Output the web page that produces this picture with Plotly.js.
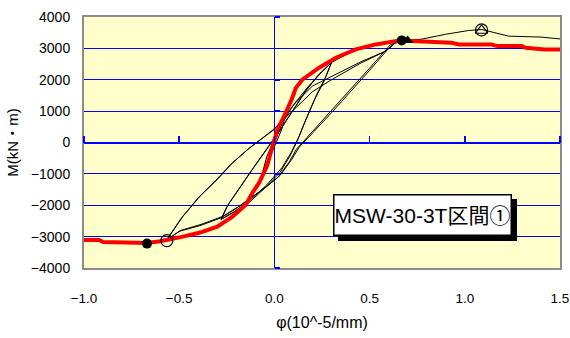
<!DOCTYPE html>
<html>
<head>
<meta charset="utf-8">
<script src="https://cdn.plot.ly/plotly-3.0.1.min.js"></script>
<style>html,body{margin:0;padding:0;background:#fff;}#chart{width:570px;height:338px;}</style>
</head>
<body>
<div id="chart"></div>
<script>
// ---- data ----
const xTicks = [-1.0, -0.5, 0.0, 0.5, 1.0, 1.5];
const yTicks = [-4000, -3000, -2000, -1000, 0, 1000, 2000, 3000, 4000];

// skeleton (envelope) curve, red
const envX = [-1.03, -0.92, -0.90, -0.75, -0.67, -0.60, -0.565, -0.48, -0.39, -0.30, -0.22, -0.15, -0.115, -0.08, -0.04, -0.01, 0.016, 0.043, 0.087, 0.113, 0.148, 0.235, 0.323, 0.427, 0.532, 0.636, 0.669, 0.722, 0.93, 0.97, 1.14, 1.17, 1.30, 1.32, 1.42, 1.52];
const envY = [-3110, -3110, -3170, -3180, -3200, -3150, -3110, -3000, -2870, -2680, -2360, -1980, -1600, -1280, -770, -130, 415, 734, 1317, 1745, 2010, 2383, 2702, 2967, 3126, 3232, 3263, 3232, 3180, 3126, 3126, 3072, 3072, 3021, 2967, 2967];

// hysteresis test loops, thin black
const firstLoopX = [0, 0.03, 0.06, 0.04, 0.01, -0.03, -0.06, -0.04, -0.01, 0.02, 0.05, 0.0];
const firstLoopY = [0, 500, 900, 450, 0, -500, -900, -450, -50, 350, 800, 0];
const smallLoopX = [0, 0.04, 0.10, 0.18, 0.25, 0.30, 0.27, 0.22, 0.17, 0.13, 0.09, 0.04, -0.04, -0.13, -0.21, -0.28, -0.25, -0.19, -0.12, -0.05, 0.02, 0.09, 0.16, 0.23, 0.30,
                    0.26, 0.21, 0.16, 0.12, 0.08, 0.03, -0.05, -0.14, -0.22, -0.28, -0.24, -0.18, -0.11, -0.04, 0.03, 0.10, 0.17, 0.24, 0.30];
const smallLoopY = [0, 600, 1200, 1800, 2250, 2550, 2100, 1500, 800, 200, -300, -800, -1350, -1850, -2200, -2450, -2050, -1500, -900, -300, 300, 950, 1600, 2150, 2550,
                    1950, 1350, 650, 50, -450, -950, -1450, -1950, -2250, -2450, -1950, -1400, -800, -200, 400, 1050, 1700, 2200, 2550];
const largeLoopX = [0.30, 0.40, 0.50, 0.60, 0.67, 0.61, 0.50, 0.40, 0.30, 0.20, 0.115, 0.08, 0.02, -0.05, -0.12, -0.20, -0.28, -0.39, -0.50, -0.565, -0.48, -0.39, -0.30, -0.22, -0.13, -0.06, 0.0, 0.05, 0.11, 0.20, 0.29, 0.46, 0.585, 0.63,
                    0.60, 0.50, 0.40, 0.30, 0.20, 0.13, 0.09, 0.03, -0.04, -0.11, -0.19, -0.27, -0.38, -0.49, -0.565, -0.49, -0.40, -0.31, -0.23, -0.14, -0.07, -0.01, 0.06, 0.12, 0.20, 0.30, 0.45, 0.58, 0.63];
const largeLoopY = [2550, 2880, 3080, 3200, 3250, 3120, 2370, 1700, 1020, 350, -220, -600, -1100, -1450, -1750, -2100, -2400, -2650, -2830, -3100, -2350, -1710, -1180, -650, -170, 150, 420, 800, 1260, 1800, 2070, 2590, 2910, 3150,
                    3000, 2300, 1620, 950, 300, -150, -550, -1050, -1400, -1700, -2050, -2350, -2600, -2800, -3100, -2420, -1760, -1220, -700, -220, 110, 390, 800, 1150, 1620, 2000, 2520, 2900, 3150];
const pushX = [0.63, 0.67, 0.72, 0.77, 0.90, 1.02, 1.09, 1.12, 1.23, 1.40, 1.52];
const pushY = [3150, 3250, 3270, 3290, 3450, 3570, 3600, 3550, 3390, 3360, 3290];

// characteristic points
const filledCircleX = [-0.669, 0.669];
const filledCircleY = [-3222, 3254];
const filledTriX = [0.70];
const filledTriY = [3254];
const openCircleX = [-0.565, 1.088];
const openCircleY = [-3126, 3590];
const openTriX = [1.088];
const openTriY = [3570];

const label = 'MSW-30-3T区間①';

const blue = '#0000FF';
const thin = {color: '#000000', width: 1};

const traces = [
  {x: firstLoopX, y: firstLoopY, mode: 'lines', line: thin, hoverinfo: 'skip'},
  {x: smallLoopX, y: smallLoopY, mode: 'lines', line: thin, hoverinfo: 'skip'},
  {x: largeLoopX, y: largeLoopY, mode: 'lines', line: thin, hoverinfo: 'skip'},
  {x: pushX, y: pushY, mode: 'lines', line: thin, hoverinfo: 'skip'},
  {x: envX, y: envY, mode: 'lines', line: {color: '#FF0000', width: 4}, hoverinfo: 'skip'},
  {x: filledCircleX, y: filledCircleY, mode: 'markers', marker: {symbol: 'circle', size: 10, color: '#000'}},
  {x: filledTriX, y: filledTriY, mode: 'markers', marker: {symbol: 'triangle-up', size: 10, color: '#000'}},
  {x: openTriX, y: openTriY, mode: 'markers', marker: {symbol: 'triangle-up-open', size: 11, color: '#000', line: {width: 1.2}}},
  {x: openCircleX, y: openCircleY, mode: 'markers', marker: {symbol: 'circle-open', size: 12, color: '#000', line: {width: 1.2}}},
  // carriers for the tick-marked axes that cross at zero
  {x: [], y: [], xaxis: 'x2', yaxis: 'y', mode: 'markers', hoverinfo: 'skip'},
  {x: [], y: [], xaxis: 'x', yaxis: 'y2', mode: 'markers', hoverinfo: 'skip'}
];

const tickFont = {family: 'Liberation Sans, Arial, sans-serif', size: 14, color: '#000'};
const titleFont = {family: 'Liberation Sans, Noto Sans CJK JP, sans-serif', size: 15, color: '#000'};

const layout = {
  width: 570, height: 338,
  margin: {l: 84, r: 10, t: 17, b: 70},
  paper_bgcolor: '#FFFFFF',
  plot_bgcolor: '#FFFFCC',
  showlegend: false,
  xaxis: {
    range: [-1, 1.5], tickvals: xTicks, tickformat: '.1f', ticklabeloverflow: 'allow',
    showgrid: false, zeroline: true, zerolinecolor: blue, zerolinewidth: 1.5,
    showline: true, mirror: true, linecolor: '#8C8C8C', linewidth: 2,
    ticks: '', ticklabelstandoff: 17,
    tickfont: {family: tickFont.family, size: 13.5, color: '#000'},
    title: {text: 'φ(10^-5/mm)', font: {family: titleFont.family, size: 16, color: '#000'}, standoff: 12}
  },
  yaxis: {
    range: [-4000, 4000], tickvals: yTicks, tickformat: 'd',
    showgrid: true, gridcolor: blue, gridwidth: 1,
    zeroline: true, zerolinecolor: blue, zerolinewidth: 2,
    showline: true, mirror: true, linecolor: '#8C8C8C', linewidth: 2,
    ticks: '', ticklabelstandoff: 9, tickfont: tickFont,
    title: {text: 'M(kN・m)', font: titleFont, standoff: 9}
  },
  xaxis2: {
    overlaying: 'x', anchor: 'free', position: 0.5, side: 'top',
    range: [-1, 1.5], tickvals: xTicks, showticklabels: false,
    ticks: 'outside', ticklen: 7, tickwidth: 1.5, tickcolor: blue,
    showgrid: false, zeroline: false, showline: false
  },
  yaxis2: {
    overlaying: 'y', anchor: 'free', position: 0.4, side: 'right',
    range: [-4000, 4000], tickvals: yTicks, showticklabels: false,
    ticks: 'outside', ticklen: 5, tickwidth: 1.5, tickcolor: blue,
    showgrid: false, zeroline: false, showline: false
  },
  annotations: [
    {xref: 'paper', yref: 'paper', x: 0.712, y: 0.211, xanchor: 'center', yanchor: 'middle',
     text: ' ', showarrow: false, xshift: 5, yshift: -5, width: 176, height: 39,
     font: {size: 10, color: '#000'},
     bgcolor: '#000', bordercolor: '#000', borderwidth: 1.5, borderpad: 0},
    {xref: 'paper', yref: 'paper', x: 0.712, y: 0.211, xanchor: 'center', yanchor: 'middle',
     text: label, showarrow: false, width: 176, height: 39,
     font: {family: 'Liberation Sans, Noto Sans CJK JP, sans-serif', size: 21, color: '#000'},
     bgcolor: '#FFFFFF', bordercolor: '#000', borderwidth: 1.5, borderpad: 0}
  ]
};

Plotly.newPlot('chart', traces, layout, {staticPlot: true, displayModeBar: false});
</script>
</body>
</html>
